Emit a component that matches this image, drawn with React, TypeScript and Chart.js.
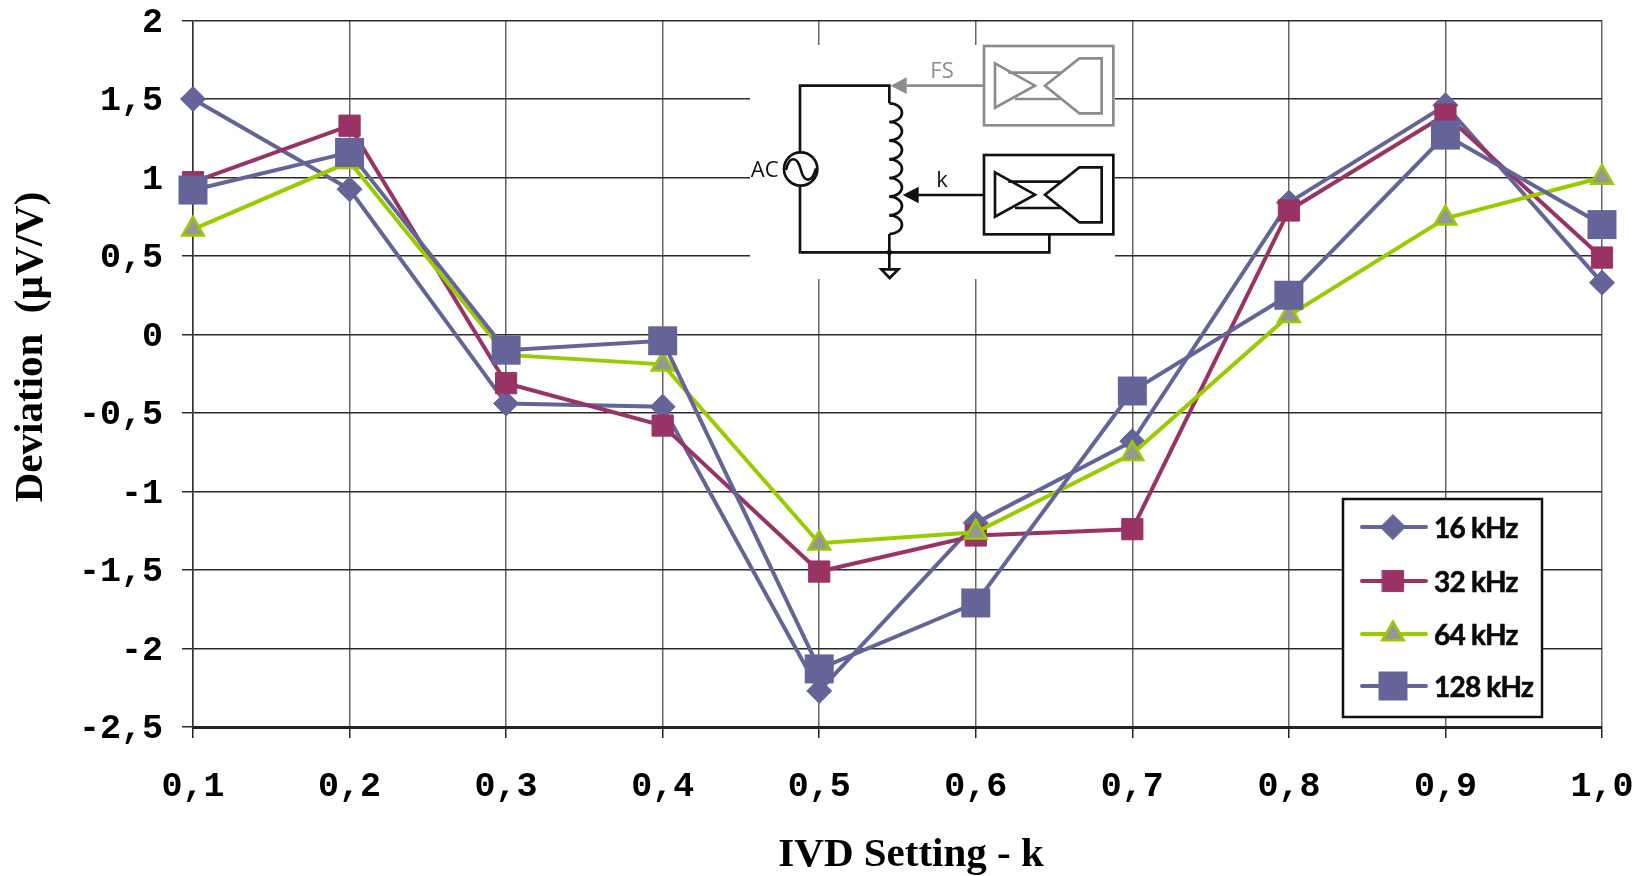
import React, { useEffect, useRef } from "react";
import { Chart, registerables, Plugin } from "chart.js";
import { drawPoint } from "chart.js/helpers";

Chart.register(...registerables);

const categories = ["0,1", "0,2", "0,3", "0,4", "0,5", "0,6", "0,7", "0,8", "0,9", "1,0"];
const values16 = [1.5, 0.925, -0.44, -0.46, -2.27, -1.2, -0.68, 0.84, 1.46, 0.33];
const values32 = [0.97, 1.33, -0.31, -0.58, -1.51, -1.28, -1.24, 0.79, 1.4, 0.49];
const values64 = [0.67, 1.1, -0.13, -0.19, -1.33, -1.26, -0.76, 0.12, 0.74, 1.0];
const values128 = [0.92, 1.16, -0.1, -0.04, -2.13, -1.71, -0.36, 0.25, 1.27, 0.7];
const seriesNames = ["16 kHz", "32 kHz", "64 kHz", "128 kHz"];
const xTitle = "IVD Setting - k";
const yTitle = "Deviation  (µV/V)";

const PURPLE = "#646499";
const WINE = "#993366";
const LIME = "#99cc00";
const GREY = "#969696";

const tickFont = { family: "'Liberation Mono'", size: 35, weight: "bold" as const };

const nudgeLabelsPlugin: Plugin<"line"> = {
  id: "nudgeLabels",
  beforeDraw(chart) {
    const shift = (id: string, dy: number) => {
      const scale: any = chart.scales[id];
      scale.getLabelItems(chart.chartArea).forEach((item: any) => {
        item.options.translation = [item.options.translation[0], item.options.translation[1] + dy];
      });
    };
    shift("y", 2.5);
    shift("x", -1);
  },
};

const overlayPlugin: Plugin<"line"> = {
  id: "overlay",
  afterDraw(chart) {
    const ctx = chart.ctx;
    ctx.save();
    // axis titles
    ctx.fillStyle = "#000";
    ctx.textAlign = "center";
    ctx.textBaseline = "middle";
    ctx.font = "bold 41px 'Liberation Serif'";
    ctx.fillText(xTitle, 911, 855);
    ctx.save();
    ctx.translate(31, 347);
    ctx.rotate(-Math.PI / 2);
    ctx.fillText(yTitle, 0, 0);
    ctx.restore();
    // legend
    ctx.fillStyle = "#fff";
    ctx.strokeStyle = "#111";
    ctx.lineWidth = 2.5;
    ctx.fillRect(1343, 499, 199, 218);
    ctx.strokeRect(1343, 499, 199, 218);
    const rows = [527, 581, 634, 686];
    chart.data.datasets.forEach((ds: any, i: number) => {
      const y = rows[i];
      ctx.strokeStyle = ds.borderColor;
      ctx.lineWidth = 4;
      ctx.lineCap = "round";
      ctx.beginPath();
      ctx.moveTo(1362, y);
      ctx.lineTo(1426, y);
      ctx.stroke();
      ctx.fillStyle = ds.pointBackgroundColor;
      ctx.strokeStyle = ds.pointBorderColor;
      ctx.lineWidth = ds.pointBorderWidth;
      drawPoint(ctx, { pointStyle: ds.pointStyle, radius: ds.pointRadius, borderWidth: ds.pointBorderWidth, rotation: 0 } as any, 1393, y);
      ctx.fillStyle = "#0a0a0a";
      ctx.strokeStyle = "#0a0a0a";
      ctx.lineWidth = 0.6;
      ctx.font = "bold 28px Lato";
      (ctx as any).letterSpacing = "-0.8px";
      ctx.textAlign = "left";
      ctx.textBaseline = "middle";
      ctx.fillText(ds.label, 1434, y + 2);
      ctx.strokeText(ds.label, 1434, y + 2);
      (ctx as any).letterSpacing = "0px";
    });
    ctx.restore();
  },
};

function Schematic() {
  const amp = (dy: number, color: string) => (
    <g fill="none" stroke={color} strokeWidth={8} transform={`translate(0 ${dy})`}>
      <rect x={792} y={78} width={388} height={238} />
      <path d="M825,130 L945,197 L825,263 Z" />
      <path d="M865,158 H1022 M885,237 H1022" />
      <path d="M1145,115 H1078 L975,197 L1078,280 H1145 Z" />
    </g>
  );
  const coilStarts = [250, 306, 362, 418, 474, 530, 586];
  return (
    <svg
      viewBox="0 0 1260 840"
      width={420}
      height={280}
      style={{ position: "absolute", left: 720, top: 20 }}
    >
      <rect x={90} y={75} width={1095} height={702} fill="#fff" />
      {amp(0, "#8c8c8c")}
      {amp(327, "#111")}
      <g fill="none" stroke="#111" strokeWidth={8}>
        <path d="M240,395 V197 H508 V250" />
        {coilStarts.map((y) => (
          <path key={y} d={`M508,${y} A38,28 0 1 1 508,${y + 56}`} />
        ))}
        <path d="M508,642 V745" />
        <path d="M240,497 V697 H988 V643" />
        <circle cx={242} cy={447} r={50} />
        <path d="M198,450 C208,405 232,410 242,447 C252,490 276,490 288,445" />
        <path d="M484,748 H535 L509,774 Z" />
        <path d="M590,525 H792" />
      </g>
      <circle cx={508} cy={697} r={8} fill="#111" />
      <path d="M548,525 L596,500 V550 Z" fill="#111" />
      <path d="M560,197 H792" stroke="#8c8c8c" strokeWidth={8} fill="none" />
      <path d="M512,197 L560,172 V222 Z" fill="#8c8c8c" />
      <g fontFamily="'Open Sans'" fontSize={66} textAnchor="middle">
        <text x={666} y={174} fill="#8c8c8c">FS</text>
        <text x={666} y={501} fill="#111">k</text>
        <text x={134} y={471} fill="#111">AC</text>
      </g>
    </svg>
  );
}

const noMargins = (s: any) => {
  s.paddingLeft = 0;
  s.paddingRight = 0;
  s.paddingTop = 0;
  s.paddingBottom = 0;
};

export default function App() {
  const ref = useRef<HTMLCanvasElement>(null);
  useEffect(() => {
    const chart = new Chart(ref.current!, {
      type: "line",
      data: {
        labels: categories,
        datasets: [
          { label: seriesNames[0], data: values16, order: 4, borderColor: PURPLE, pointStyle: "rectRot", pointRadius: 12.5, pointHoverRadius: 12.5, pointBackgroundColor: PURPLE, pointBorderColor: PURPLE, pointBorderWidth: 1 },
          { label: seriesNames[1], data: values32, order: 3, borderColor: WINE, pointStyle: "rect", pointRadius: 15, pointHoverRadius: 15, pointBackgroundColor: WINE, pointBorderColor: WINE, pointBorderWidth: 1 },
          { label: seriesNames[2], data: values64, order: 2, borderColor: LIME, pointStyle: "triangle", pointRadius: 12.5, pointHoverRadius: 12.5, pointBackgroundColor: GREY, pointBorderColor: LIME, pointBorderWidth: 2.5 },
          { label: seriesNames[3], data: values128, order: 1, borderColor: PURPLE, pointStyle: "rect", pointRadius: 20.5, pointHoverRadius: 20.5, pointBackgroundColor: PURPLE, pointBorderColor: PURPLE, pointBorderWidth: 0 },
        ].map((d) => ({ ...d, borderWidth: 4, tension: 0, fill: false, clip: false })) as any,
      },
      options: {
        responsive: false,
        animation: false,
        layout: { padding: { top: 18, right: 40, left: 0, bottom: 0 } },
        plugins: { legend: { display: false }, tooltip: { enabled: false }, title: { display: false } },
        scales: {
          x: {
            type: "category",
            offset: false,
            afterFit: (s: any) => { s.height = 149; noMargins(s); },
            grid: { color: "#666", lineWidth: 1.5, tickColor: "#222", tickLength: 11, drawTicks: true },
            border: { color: "#222", width: 3 },
            ticks: { color: "#000", font: tickFont, padding: 29, maxRotation: 0, autoSkip: false },
          },
          y: {
            min: -2.5,
            max: 2,
            afterFit: (s: any) => { s.width = 193; noMargins(s); },
            grid: { color: "#2a2a2a", lineWidth: 1.5, tickColor: "#2a2a2a", tickLength: 11 },
            border: { color: "#333", width: 1.5 },
            ticks: {
              stepSize: 0.5,
              color: "#000",
              font: tickFont,
              padding: 19,
              callback: (v: any) => String(v).replace(".", ","),
            },
          },
        },
      },
      plugins: [nudgeLabelsPlugin, overlayPlugin],
    });
    return () => chart.destroy();
  }, []);
  return (
    <div style={{ position: "absolute", left: 0, top: 0, width: 1642, height: 876, background: "#fff", overflow: "hidden" }}>
      <canvas ref={ref} width={1642} height={876} style={{ display: "block" }} />
      <Schematic />
    </div>
  );
}
